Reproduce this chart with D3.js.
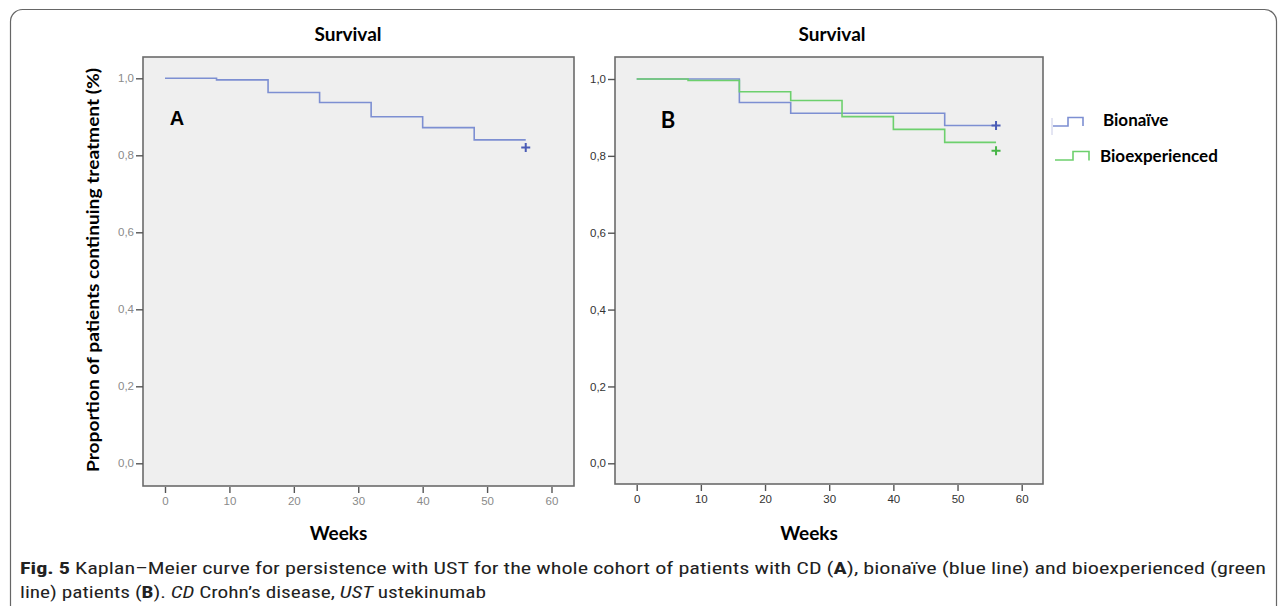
<!DOCTYPE html>
<html>
<head>
<meta charset="utf-8">
<script src="https://cdn.jsdelivr.net/npm/d3@7"></script>
<style>
  html, body { margin: 0; padding: 0; background: #fff; }
  svg { display: block; }
</style>
</head>
<body>
<svg id="chart" width="1287" height="606"></svg>
<script>
// Kaplan-Meier data (weeks, survival proportion)
const xTicks = [0, 10, 20, 30, 40, 50, 60];
const yTicks = [0, 0.2, 0.4, 0.6, 0.8, 1.0];

const timesA = [0, 8, 16, 24, 32, 40, 48, 56];
const survA = [1.0, 0.996, 0.963, 0.937, 0.900, 0.872, 0.840, 0.840];
const censorA = [0.820];

const timesNaive = [0, 16, 24, 48, 56];
const survNaive = [1.0, 0.939, 0.911, 0.879, 0.879];
const censorNaive = [0.879];

const timesExp = [0, 8, 16, 24, 32, 40, 48, 56];
const survExp = [1.0, 0.996, 0.967, 0.944, 0.902, 0.869, 0.835, 0.835];
const censorExp = [0.813];

const seriesNames = ["Bionaïve", "Bioexperienced"];
const blue = "#7d8fd2", blueDark = "#4a5cb6";
const green = "#6dd06d", greenDark = "#47b547";

const svg = d3.select("#chart");
const comma = v => d3.format(".1f")(v).replace(".", ",");

// outer figure border
svg.append("rect")
  .attr("x", 10.5).attr("y", 9.5)
  .attr("width", 1266).attr("height", 640)
  .attr("rx", 12)
  .attr("fill", "none")
  .attr("stroke", "#666")
  .attr("stroke-width", 1.2);

function drawPanel(p) {
  const g = svg.append("g");
  const x = d3.scaleLinear().domain([0, 60]).range([p.x0, p.x60]);
  const y = d3.scaleLinear().domain([0, 1]).range([p.y0, p.y1]);

  // plot frame
  g.append("rect")
    .attr("x", p.left).attr("y", p.top)
    .attr("width", p.right - p.left).attr("height", p.bottom - p.top)
    .attr("fill", "#efefef")
    .attr("stroke", "#6b6b6b")
    .attr("stroke-width", 1.6);

  // x axis
  const xa = g.append("g")
    .attr("transform", "translate(0," + (p.bottom + 1) + ")")
    .call(d3.axisBottom(x).tickValues(xTicks).tickSize(6).tickPadding(4));
  xa.select(".domain").remove();
  xa.selectAll("line").attr("stroke", "#555").attr("stroke-width", 1.4);
  xa.selectAll("text")
    .attr("fill", p.tickColor)
    .style("font-family", "Liberation Sans, Arial, sans-serif")
    .style("font-size", "11.5px");

  // y axis
  const ya = g.append("g")
    .attr("transform", "translate(" + p.left + ",0)")
    .call(d3.axisLeft(y).tickValues(yTicks).tickFormat(comma).tickSize(7).tickPadding(2));
  ya.select(".domain").remove();
  ya.selectAll("line").attr("stroke", "#555").attr("stroke-width", 1.4);
  ya.selectAll("text")
    .attr("fill", p.tickColor)
    .style("font-family", "Liberation Sans, Arial, sans-serif")
    .style("font-size", "11.5px");

  // titles
  g.append("text")
    .attr("x", p.titleX).attr("y", 41)
    .attr("text-anchor", "middle")
    .style("font-family", "Lato, sans-serif")
    .style("font-weight", "bold")
    .style("font-size", "19px")
    .text("Survival");

  g.append("text")
    .attr("x", (p.left + p.right) / 2 - 20).attr("y", 540)
    .attr("text-anchor", "middle")
    .style("font-family", "Lato, sans-serif")
    .style("font-weight", "bold")
    .style("font-size", "19px")
    .text("Weeks");

  g.append("text")
    .attr("x", p.letterX).attr("y", p.letterY)
    .attr("text-anchor", "middle")
    .style("font-family", p.letterFont)
    .style("font-weight", "bold")
    .style("font-size", p.letterSize)
    .text(p.letter);

  // curves
  const line = d3.line()
    .x(d => x(d[0]))
    .y(d => y(d[1]))
    .curve(d3.curveStepAfter);

  p.series.forEach(s => {
    const pts = s.times.map((t, i) => [t, s.surv[i]]);
    g.append("path")
      .attr("d", line(pts))
      .attr("fill", "none")
      .attr("stroke", s.color)
      .attr("stroke-width", 1.6);

    const tEnd = s.times[s.times.length - 1];
    s.censor.forEach(c => {
      const cx = x(tEnd), cy = y(c);
      g.append("path")
        .attr("d", "M" + (cx - 4.5) + "," + cy + "h9M" + cx + "," + (cy - 4.5) + "v9")
        .attr("stroke", s.mark)
        .attr("stroke-width", 2);
    });
  });
  return g;
}

drawPanel({
  left: 143, right: 574, top: 57, bottom: 486,
  x0: 165, x60: 551.5, y0: 463.3, y1: 78.3,
  tickColor: "#8a8a8a", titleX: 348,
  letter: "A", letterX: 177, letterY: 125, letterSize: "20px",
  letterFont: "Liberation Sans, Arial, sans-serif",
  series: [{ times: timesA, surv: survA, censor: censorA, color: blue, mark: blueDark }]
});

drawPanel({
  left: 615, right: 1043, top: 57, bottom: 484,
  x0: 636.7, x60: 1021.7, y0: 463.3, y1: 79,
  tickColor: "#333", titleX: 832,
  letter: "B", letterX: 668, letterY: 128, letterSize: "22px",
  letterFont: "Lato, sans-serif",
  series: [
    { times: timesNaive, surv: survNaive, censor: censorNaive, color: blue, mark: blueDark },
    { times: timesExp, surv: survExp, censor: censorExp, color: green, mark: greenDark }
  ]
});

// y axis title (panel A)
svg.append("text")
  .attr("transform", "translate(99,270) rotate(-90)")
  .attr("text-anchor", "middle")
  .attr("textLength", 404)
  .attr("lengthAdjust", "spacingAndGlyphs")
  .style("font-family", "Lato, sans-serif")
  .style("font-weight", "bold")
  .style("font-size", "17px")
  .text("Proportion of patients continuing treatment (%)");

// legend
const legend = [
  { name: seriesNames[0], color: blue, icon: "M1053,126h15v-8.5h15v8.5", tx: 1103, ty: 126 },
  { name: seriesNames[1], color: green, icon: "M1055,160h18v-8.5h16v9", tx: 1100, ty: 162 }
];
legend.forEach(l => {
  svg.append("path")
    .attr("d", l.icon)
    .attr("fill", "none")
    .attr("stroke", l.color)
    .attr("stroke-width", 1.6);
  svg.append("text")
    .attr("x", l.tx).attr("y", l.ty)
    .style("font-family", "Lato, sans-serif")
    .style("font-weight", "bold")
    .style("font-size", "17px")
    .text(l.name);
});
svg.append("line")
  .attr("x1", 1052).attr("x2", 1052).attr("y1", 118).attr("y2", 135)
  .attr("stroke", "#c8cbe6").attr("stroke-width", 1);

// caption
const cap = svg.append("g")
  .style("font-family", "Liberation Sans Narrow, Roboto Condensed, Liberation Sans, sans-serif")
  .style("font-size", "17px")
  .attr("fill", "#222");

const l1 = cap.append("text").attr("x", 20).attr("y", 574)
  .attr("textLength", 1246).attr("lengthAdjust", "spacingAndGlyphs");
l1.append("tspan").style("font-weight", "bold").text("Fig. 5");
l1.append("tspan").text("  Kaplan–Meier curve for persistence with UST for the whole cohort of patients with CD (");
l1.append("tspan").style("font-weight", "bold").text("A");
l1.append("tspan").text("), bionaïve (blue line) and bioexperienced (green");

const l2 = cap.append("text").attr("x", 20).attr("y", 598)
  .attr("textLength", 466).attr("lengthAdjust", "spacingAndGlyphs");
l2.append("tspan").text("line) patients (");
l2.append("tspan").style("font-weight", "bold").text("B");
l2.append("tspan").text("). ");
l2.append("tspan").style("font-style", "italic").text("CD");
l2.append("tspan").text(" Crohn’s disease, ");
l2.append("tspan").style("font-style", "italic").text("UST");
l2.append("tspan").text(" ustekinumab");
</script>
</body>
</html>
